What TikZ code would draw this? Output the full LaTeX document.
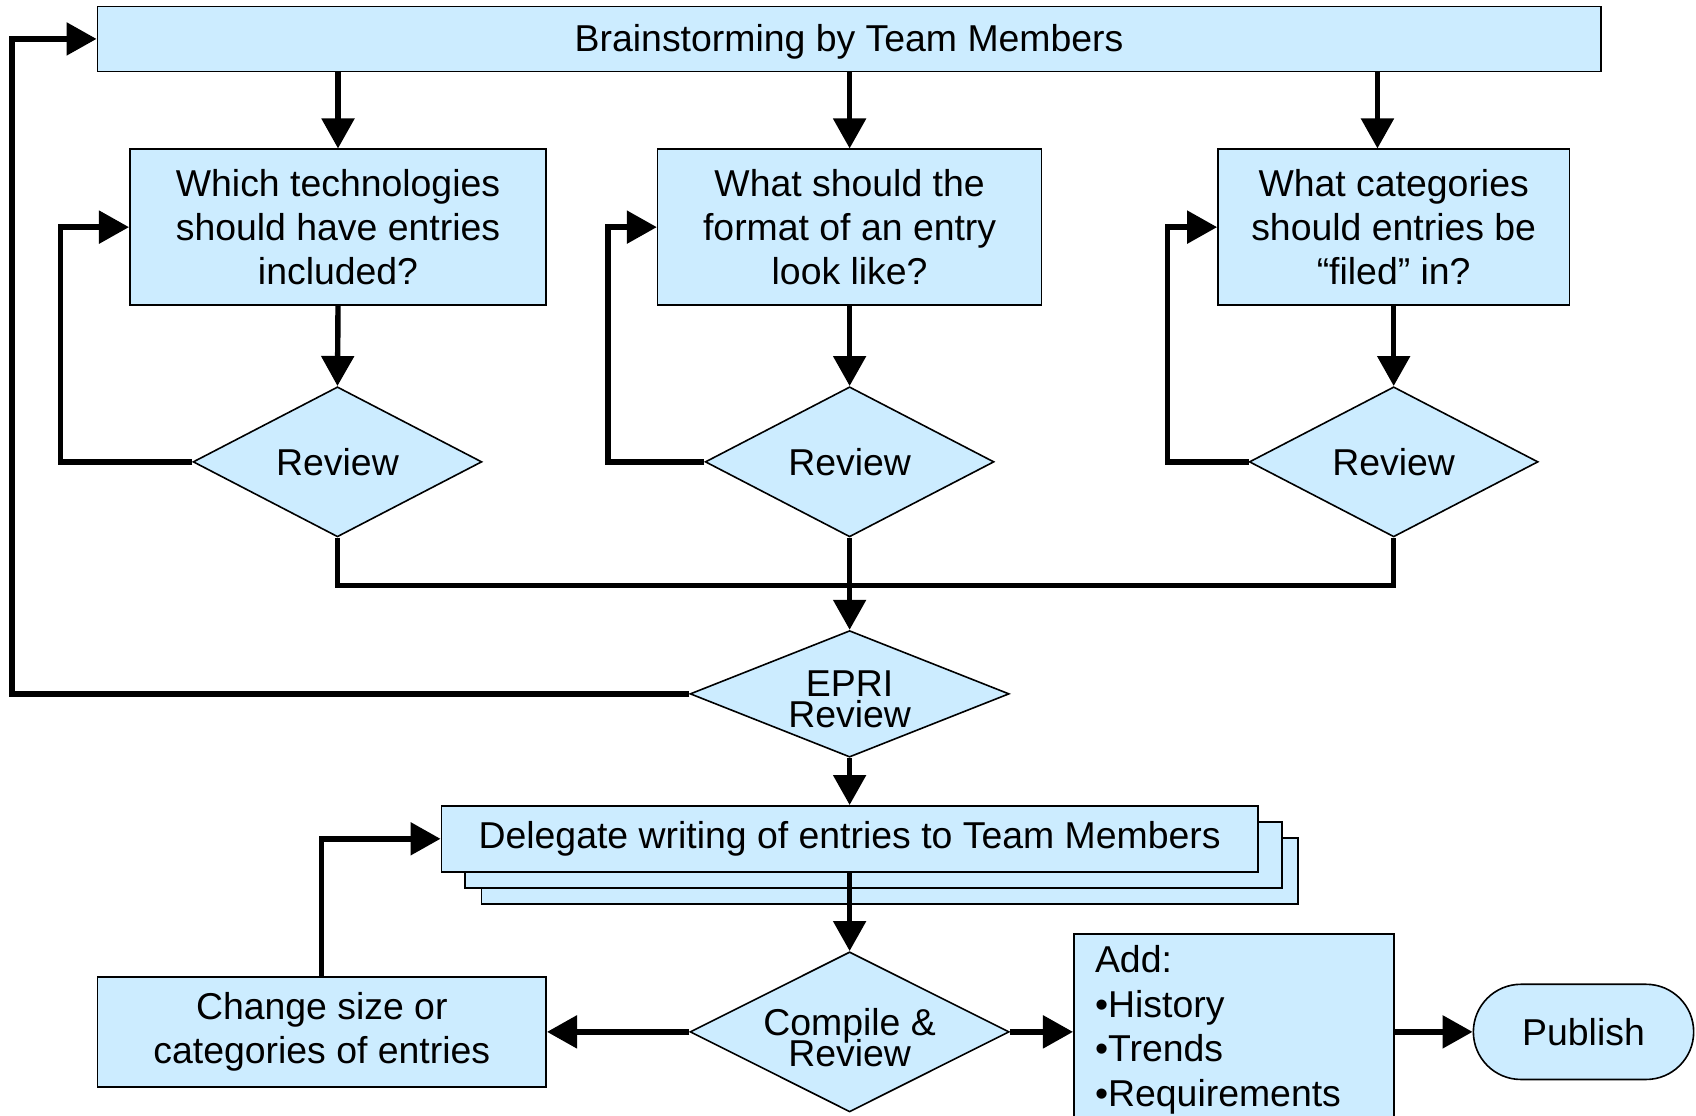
\documentclass[tikz,border=0pt]{standalone}
\usepackage{fontspec}
\setmainfont{Liberation Sans}
\usetikzlibrary{arrows.meta,shapes.geometric,shapes.misc}
\definecolor{boxblue}{RGB}{204,236,255}
\def\pu{0.5408pt}
\newcommand\tightfont{\fontsize{18.7}{15.7}\selectfont\lineskiplimit-20pt\relax}
\tikzset{
  box/.style={rectangle,draw,fill=boxblue,line width=0.8pt,align=center,inner sep=0pt},
  check/.style={diamond,draw,fill=boxblue,line width=0.8pt,align=center,inner sep=0pt},
  tight/.style={align=center,inner sep=0pt,font=\tightfont},
  flow/.style={line width=2.7pt,-{Triangle[width=16pt,length=15pt]}},
  link/.style={line width=2.7pt},
}

\begin{document}
\begin{tikzpicture}[x=\pu,y=-\pu,font=\fontsize{18.7}{22.2}\selectfont]
\useasboundingbox (0,0) rectangle (1568,1031);
\clip (0,0) rectangle (1568,1031);
      \node [box,minimum width=1390*\pu,minimum height=60*\pu,text depth=1pt] at (785,36) (brain) {Brainstorming by Team Members};
       \node [box,minimum width=385*\pu,minimum height=144*\pu] at (312.5,210) (q1) {Which technologies\\should have entries\\included?};
        \node [box,minimum width=355*\pu,minimum height=144*\pu] at (785.5,210) (q2) {What should the\\format of an entry\\look like?};
         \node [box,minimum width=325*\pu,minimum height=144*\pu] at (1288.5,210) (q3) {What categories\\should entries be\\“filed” in?};
          \node [check,minimum width=267*\pu,minimum height=133*\pu] at (312,427) (r1) {Review};
           \node [check,minimum width=267*\pu,minimum height=133*\pu] at (785.5,427) (r2) {Review};
            \node [check,minimum width=267*\pu,minimum height=133*\pu] at (1288.5,427) (r3) {Review};
             \node [check,minimum width=295*\pu,minimum height=117*\pu] at (785.5,641.5) (epri) {};
             \node [tight] at (785.5,646.5) (epri text) {EPRI\\Review};
              \node [box,minimum width=755*\pu,minimum height=61*\pu] at (822.5,805.5) (dlg back) {};
               \node [box,minimum width=755*\pu,minimum height=61*\pu] at (807.5,790.5) (dlg mid) {};
                \node [box,minimum width=755*\pu,minimum height=61*\pu] at (785.5,775.5) (dlg) {Delegate writing of entries to Team Members};
                 \node [check,minimum width=295*\pu,minimum height=148*\pu] at (785.5,954) (cmp) {};
                 \node [tight] at (785.5,959.5) (cmp text) {Compile \&\\Review};
                  \node [box,minimum width=415*\pu,minimum height=102*\pu] at (297.5,954) (chg) {Change size or\\categories of entries};
                   \node [box,anchor=north west,minimum width=296*\pu,minimum height=200*\pu] at (992,863) (add) {};
                   \node [align=left,anchor=north west,inner sep=0pt,text width=256*\pu] at (1012,874) (add text) {Add:\\•History\\•Trends\\•Requirements};
                    \node [rounded rectangle,draw,fill=boxblue,line width=0.8pt,minimum width=216*\pu,minimum height=88*\pu] at (1464,954) (pub) {Publish};
%
%
\draw[flow] (brain.south -| q1.north) -- (q1.north);
\draw[flow] (brain.south -| q2.north) -- (q2.north);
\draw[flow] ([xshift=-15*\pu]q3.north |- brain.south) -- ([xshift=-15*\pu]q3.north);
\draw[flow] (q1.south) -- (r1.north);
\draw[flow] (q2.south) -- (r2.north);
\draw[flow] (q3.south) -- (r3.north);
\draw[flow] (r1.west) -- ++(-122,0) |- (q1.west);
\draw[flow] (r2.west) -- ++(-89,0) |- (q2.west);
\draw[flow] (r3.west) -- ++(-75,0) |- (q3.west);
\draw[link] (r1.south) -- ++(0,44) -| (r3.south);
\draw[flow] (r2.south) -- (epri.north);
\draw[flow] (epri.west) -- ++(-626,0) |- (brain.west);
\draw[flow] (epri.south) -- (dlg.north);
\draw[flow] (dlg.south) -- (cmp.north);
\draw[flow] (cmp.west) -- (chg.east);
\draw[flow] (chg.north) |- (dlg.west);
\draw[flow] (cmp.east) -- (cmp.east -| add.west);
\draw[flow] (pub.west -| add.east) -- (pub.west);

\end{tikzpicture}
\end{document}
